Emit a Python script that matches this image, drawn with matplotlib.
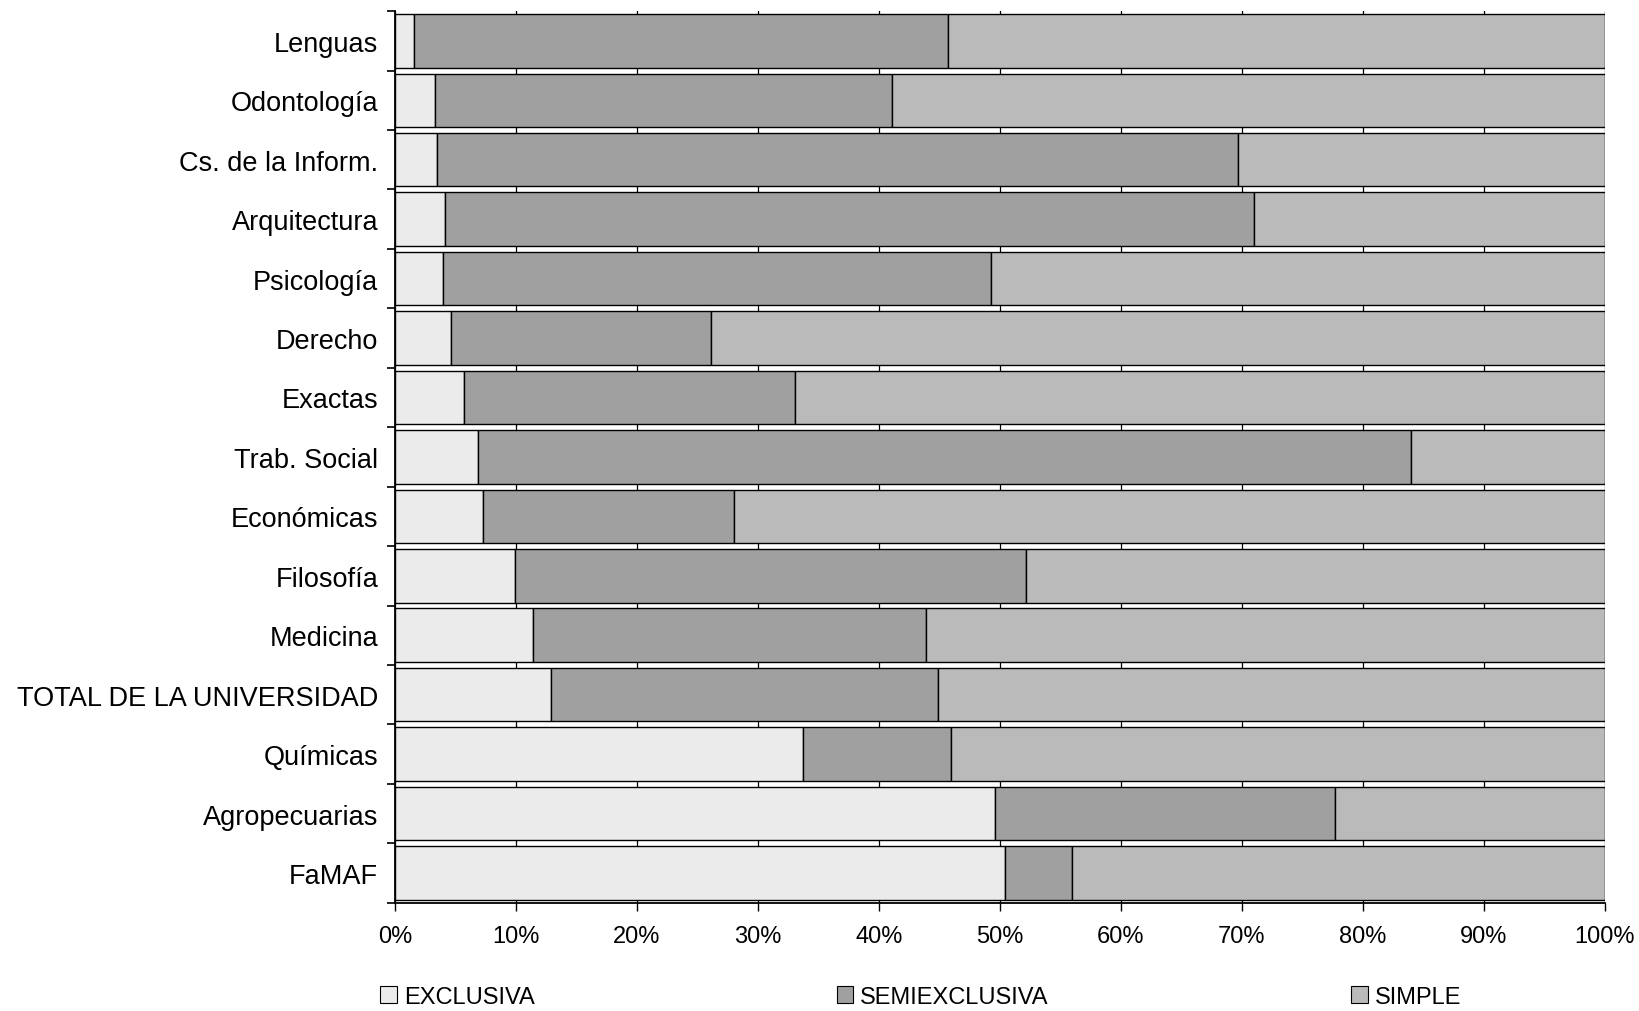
import matplotlib
matplotlib.use("Agg")
import matplotlib.pyplot as plt
import matplotlib.patches as mpatches
import numpy as np

plt.rcParams['font.family'] = ['Liberation Sans', 'DejaVu Sans']

categories = ["Lenguas", "Odontología", "Cs. de la Inform.", "Arquitectura",
              "Psicología", "Derecho", "Exactas", "Trab. Social", "Económicas",
              "Filosofía", "Medicina", "TOTAL DE LA UNIVERSIDAD", "Químicas",
              "Agropecuarias", "FaMAF"]
# percentages (cumulative boundaries turned into shares)
exclusiva = [1.6, 3.3, 3.5, 4.1, 4.0, 4.6, 5.7, 6.9, 7.3, 9.9, 11.4, 12.9, 33.7, 49.6, 50.4]
semiexclusiva = [44.1, 37.8, 66.2, 66.9, 45.3, 21.5, 27.4, 77.1, 20.7, 42.3, 32.5, 32.0, 12.3, 28.1, 5.6]
simple = [100 - a - b for a, b in zip(exclusiva, semiexclusiva)]

series_names = ["EXCLUSIVA", "SEMIEXCLUSIVA", "SIMPLE"]
colors = ["#ebebeb", "#a0a0a0", "#bababa"]

fig = plt.figure(figsize=(16.39, 10.12), dpi=100)
ax = fig.add_axes([0.241, 0.107, 0.738, 0.881])

y = np.arange(len(categories))
left = np.zeros(len(categories))
for vals, name, c in zip([exclusiva, semiexclusiva, simple], series_names, colors):
    ax.barh(y, vals, left=left, height=0.9, color=c, edgecolor="black",
            linewidth=1.0, label=name, zorder=3)
    left += np.array(vals)

ax.set_xlim(0, 100)
ax.set_ylim(len(categories) - 0.5, -0.5)
ax.set_xticks(np.arange(0, 101, 10))
ax.set_xticklabels([f"{v}%" for v in range(0, 101, 10)], fontsize=17)
ax.set_yticks(y)
ax.set_yticklabels(categories, fontsize=19.5)
ax.set_yticks(np.arange(-0.5, len(categories), 1), minor=True)
ax.tick_params(axis='y', which='major', length=0, pad=12)
ax.tick_params(axis='y', which='minor', length=6, width=1.2, direction='out')
ax.tick_params(axis='x', length=6, width=1.0, pad=10)
ax.grid(axis='x', color="black", linewidth=0.9, zorder=0)
ax.spines['top'].set_visible(False)
ax.spines['right'].set_visible(False)
ax.spines['left'].set_linewidth(1.3)
ax.spines['bottom'].set_linewidth(1.3)

handles = [mpatches.Patch(facecolor=c, edgecolor="black", linewidth=0.8) for c in colors]
fig.legend(handles, series_names, loc="center left", bbox_to_anchor=(0.219, 0.014),
           ncol=3, frameon=False, fontsize=17, handlelength=0.7, handleheight=0.7,
           handletextpad=0.3, columnspacing=12.8)

fig.savefig("out.png", dpi=100)
